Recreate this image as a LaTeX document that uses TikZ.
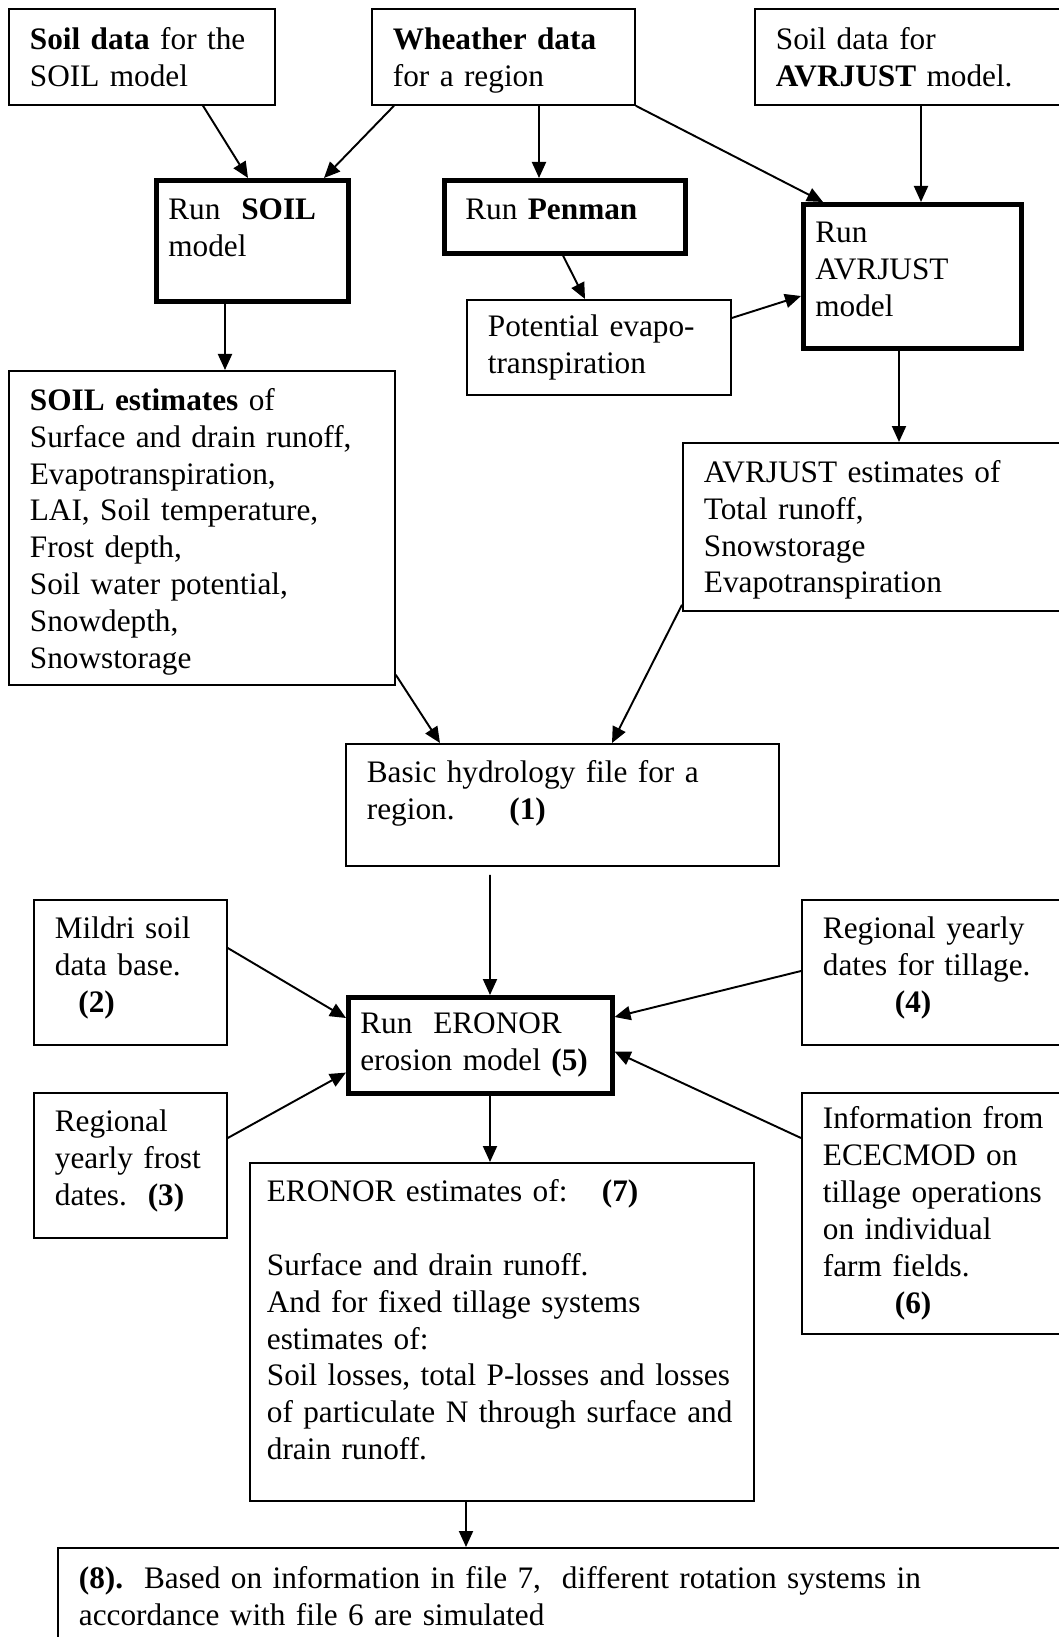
\documentclass[tikz,border=0pt]{standalone}
\usepackage{fontspec}
\setmainfont{Liberation Serif}
\usetikzlibrary{arrows.meta}
\newcommand{\botpad}[1]{\rule[-#1]{0pt}{#1}}
\newcommand{\toppad}[1]{\rule{0pt}{#1}}

\begin{document}
\begin{tikzpicture}[>={Triangle[length=0.32cm,width=0.28cm]},x=1.000cm,y=1.000cm,
 font=\fontsize{17.8pt}{21pt}\selectfont,
 box/.style={draw,line width=1pt,anchor=north west,align=left,inner xsep=0.42cm,inner ysep=2pt},
 runbox/.style={box,line width=2.6pt,inner xsep=0.24cm},
 arr/.style={->,line width=1.1pt}]
\useasboundingbox (0,0) rectangle (21.16,-32.74);
% sources and models
\node[box,text width=4.48cm,minimum height=1.92cm] (soil) at (0.16,-0.16) {\textbf{Soil data} for the\\SOIL model};
\node[box,text width=4.42cm,minimum height=1.92cm] (weather) at (7.42,-0.16) {\toppad{17pt}\textbf{Wheather data}\\for a region};
\node[box,text width=5.56cm,minimum height=1.92cm] (avrsoil) at (15.08,-0.16) {Soil data for\\\textbf{AVRJUST} model.};
\node[runbox,text width=3.36cm,minimum height=2.42cm] (runsoil) at (3.08,-3.56) {Run~~\textbf{SOIL}\\model\botpad{15pt}};
\node[runbox,inner xsep=0.42cm,text width=3.98cm,minimum height=1.46cm] (penman) at (8.84,-3.56) {Run \textbf{Penman}\botpad{8pt}};
\node[runbox,text width=3.88cm,minimum height=2.88cm] (runavr) at (16.02,-4.04) {Run\\AVRJUST\\model\botpad{8pt}};
\node[box,text width=4.44cm,minimum height=1.90cm] (potential) at (9.32,-5.98) {Potential evapo-\\transpiration};
% estimates
\node[box,text width=6.88cm,minimum height=6.28cm] (soilest) at (0.16,-7.40) {\toppad{17pt}\textbf{SOIL estimates} of\\Surface and drain runoff,\\Evapotranspiration,\\LAI, Soil temperature,\\Frost depth,\\Soil water potential,\\Snowdepth,\\Snowstorage};
\node[box,text width=7.06cm,minimum height=3.36cm] (avrest) at (13.64,-8.84) {\toppad{16pt}AVRJUST estimates of\\Total runoff,\\Snowstorage\\Evapotranspiration};
\node[box,text width=7.82cm,minimum height=2.44cm] (basic) at (6.90,-14.86) {Basic hydrology file for a\\region.\hspace{1.75em}\textbf{(1)}\botpad{17pt}};
% erosion part
\node[box,text width=3.02cm,minimum height=2.90cm] (mildri) at (0.66,-17.98) {Mildri soil\\data base.\\\hspace{0.75em}\textbf{(2)}\botpad{8.5pt}};
\node[runbox,text width=4.80cm,minimum height=1.92cm] (eronor) at (6.92,-19.90) {Run~~ERONOR\\erosion model \textbf{(5)}};
\node[box,text width=5.16cm,minimum height=2.90cm] (tillage) at (16.02,-17.98) {Regional yearly\\dates for tillage.\\\hspace{2.3em}\textbf{(4)}\botpad{8.5pt}};
\node[box,text width=3.02cm,minimum height=2.90cm] (frost) at (0.66,-21.84) {Regional\\yearly frost\\dates.~~\textbf{(3)}\botpad{9pt}};
\node[box,text width=5.16cm,minimum height=4.82cm] (ecec) at (16.02,-21.84) {Information from\\ECECMOD on\\tillage operations\\on individual\\farm fields.\\\hspace{2.3em}\textbf{(6)}};
\node[box,inner xsep=0.34cm,text width=9.40cm,minimum height=6.76cm] (eroest) at (4.98,-23.24) {ERONOR estimates of:\hspace{1.1em}\textbf{(7)}\\[21pt]Surface and drain runoff.\\And for fixed tillage systems\\estimates of:\\Soil losses, total P-losses and losses\\of particulate N through surface and\\drain runoff.\botpad{14pt}};
\node[box,text width=19.76cm,minimum height=1.92cm] (eight) at (1.14,-30.94) {\textbf{(8).}~~Based on information in file 7,~~different rotation systems in\\accordance with file 6 are simulated};
% connectors
\draw[arr] ([xshift=3.90cm]soil.south west) -- ([xshift=1.88cm]runsoil.north west);
\draw[arr] ([xshift=0.46cm]weather.south west) -- ([xshift=3.40cm]runsoil.north west);
\draw[arr] ([xshift=3.36cm]weather.south west) -- ([xshift=1.94cm]penman.north west);
\draw[arr] (weather.south east) -- ([xshift=0.44cm]runavr.north west);
\draw[arr] ([xshift=3.34cm]avrsoil.south west) -- ([xshift=2.40cm]runavr.north west);
\draw[arr] ([xshift=2.42cm]penman.south west) -- ([xshift=2.38cm]potential.north west);
\draw[arr] ([yshift=-0.38cm]potential.north east) -- ([yshift=-1.88cm]runavr.north west);
\draw[arr] ([xshift=1.42cm]runsoil.south west) -- ([xshift=4.34cm]soilest.north west);
\draw[arr] ([xshift=1.96cm]runavr.south west) -- ([xshift=4.34cm]avrest.north west);
\draw[arr] ([yshift=0.22cm]soilest.south east) -- ([xshift=1.90cm]basic.north west);
\draw[arr] ([yshift=0.14cm]avrest.south west) -- ([xshift=5.34cm]basic.north west);
\draw[arr,shorten <=0.16cm] ([xshift=2.90cm]basic.south west) -- ([xshift=2.88cm]eronor.north west);
\draw[arr] ([yshift=-0.98cm]mildri.north east) -- ([yshift=-0.46cm]eronor.north west);
\draw[arr] ([yshift=-0.92cm]frost.north east) -- ([yshift=0.46cm]eronor.south west);
\draw[arr] ([yshift=-1.44cm]tillage.north west) -- ([yshift=-0.44cm]eronor.north east);
\draw[arr] ([yshift=-0.92cm]ecec.north west) -- ([yshift=0.88cm]eronor.south east);
\draw[arr] ([xshift=2.88cm]eronor.south west) -- ([xshift=4.82cm]eroest.north west);
\draw[arr] ([xshift=4.34cm]eroest.south west) -- ([xshift=8.18cm]eight.north west);
\end{tikzpicture}
\end{document}
